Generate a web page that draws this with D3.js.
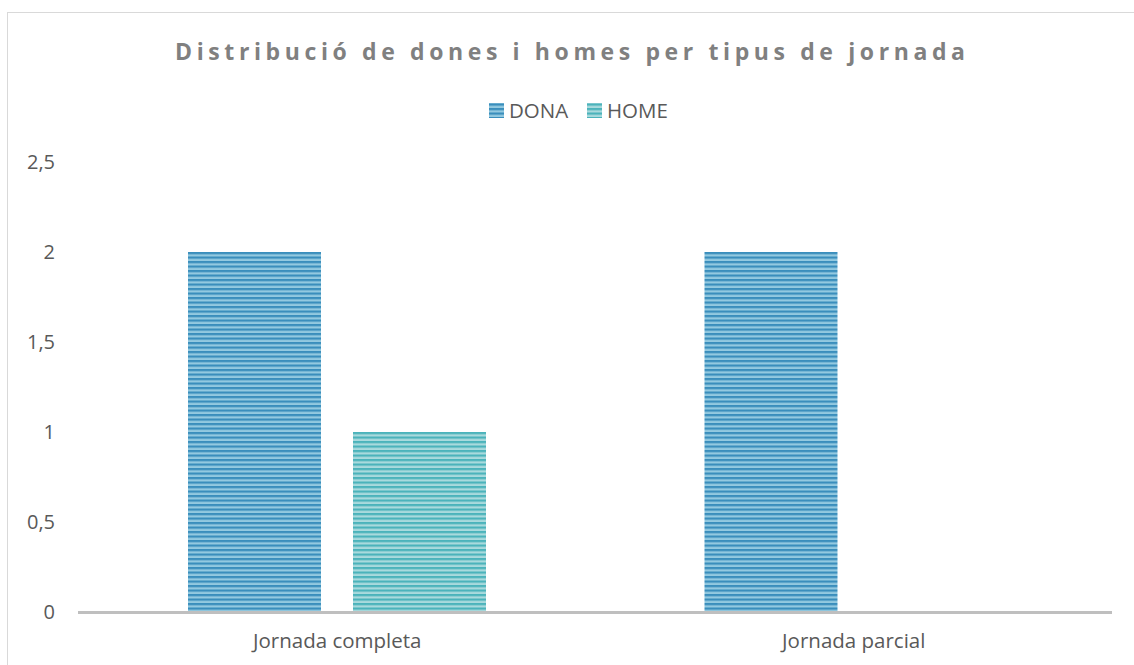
<!DOCTYPE html>
<html>
<head>
<meta charset="utf-8">
<script src="https://cdn.jsdelivr.net/npm/d3@7"></script>
<style>
  body { margin: 0; background: #fff; }
  text { font-family: "Open Sans", sans-serif; }
</style>
</head>
<body>
<div class="chart"></div>
<script>
const categories = ["Jornada completa", "Jornada parcial"];
const seriesNames = ["DONA", "HOME"];
const dona = [2, 2];
const home = [1, 0];
const yTicks = [0, 0.5, 1, 1.5, 2, 2.5];
const title = "Distribució de dones i homes per tipus de jornada";

const width = 1134, height = 665;
const marginLeft = 79, marginRight = 22, marginTop = 162, baseY = 612;

const svg = d3.select(".chart").append("svg")
  .attr("width", width)
  .attr("height", height);

// striped fills
const defs = svg.append("defs");
const fills = [
  {id: "pDona", dark: "#3a8ebc", light: "#93c9e0"},
  {id: "pHome", dark: "#4bb3bb", light: "#a9dadd"}
];
fills.forEach(f => {
  const p = defs.append("pattern")
    .attr("id", f.id)
    .attr("patternUnits", "userSpaceOnUse")
    .attr("width", 8).attr("height", 4.5);
  p.append("rect").attr("width", 8).attr("height", 4.5).attr("fill", f.light);
  p.append("rect").attr("y", 0).attr("width", 8).attr("height", 2.2).attr("fill", f.dark);
});

// outer border
svg.append("rect")
  .attr("x", 7.5).attr("y", 12.5)
  .attr("width", 1130).attr("height", 665)
  .attr("fill", "none")
  .attr("stroke", "#d9d9d9");

// title, spread to span roughly x 175..965
const titleText = svg.append("text")
  .attr("x", 175).attr("y", 60)
  .attr("fill", "#808080")
  .attr("font-size", 23)
  .attr("font-weight", "bold")
  .text(title);
const w = titleText.node().getComputedTextLength();
titleText.attr("letter-spacing", (790 - w) / (title.length - 1));

const x0 = d3.scaleBand().domain(categories).range([marginLeft, width - marginRight]);
const x1 = d3.scaleBand().domain(seriesNames).range([109, 407]).paddingInner(0.194);
const y = d3.scaleLinear().domain([0, 2.5]).range([baseY, marginTop]);

const rows = categories.map((c, i) => ({cat: c, vals: [
  {key: "DONA", value: dona[i]},
  {key: "HOME", value: home[i]}
]}));

const g = svg.append("g");
g.selectAll("g.grp").data(rows).join("g")
  .attr("class", "grp")
  .attr("transform", d => `translate(${x0(d.cat)},0)`)
  .selectAll("rect").data(d => d.vals.filter(v => v.value > 0)).join("rect")
  .attr("x", d => x1(d.key))
  .attr("width", x1.bandwidth())
  .attr("y", d => y(d.value))
  .attr("height", d => y(0) - y(d.value))
  .attr("fill", d => d.key === "DONA" ? "url(#pDona)" : "url(#pHome)");

// y tick labels
svg.append("g").selectAll("text").data(yTicks).join("text")
  .attr("x", 55)
  .attr("y", d => y(d))
  .attr("dy", "0.35em")
  .attr("text-anchor", "end")
  .attr("fill", "#595959")
  .attr("font-size", 20)
  .text(d => d3.format(".1~f")(d).replace(".", ","));

// baseline
svg.append("line")
  .attr("x1", marginLeft - 1).attr("x2", width - marginRight)
  .attr("y1", baseY + 0.5).attr("y2", baseY + 0.5)
  .attr("stroke", "#bfbfbf")
  .attr("stroke-width", 3);

// category labels
svg.append("g").selectAll("text").data(categories).join("text")
  .attr("x", d => x0(d) + x0.bandwidth() / 2)
  .attr("y", 648)
  .attr("text-anchor", "middle")
  .attr("fill", "#595959")
  .attr("font-size", 20.5)
  .text(d => d);

// legend
const legend = svg.append("g");
const legendX = [489, 587];
seriesNames.forEach((s, i) => {
  legend.append("rect")
    .attr("x", legendX[i]).attr("y", 103)
    .attr("width", 15).attr("height", 15)
    .attr("fill", i === 0 ? "url(#pDona)" : "url(#pHome)");
  legend.append("text")
    .attr("x", legendX[i] + 20).attr("y", 118)
    .attr("fill", "#595959")
    .attr("font-size", 20.5)
    .text(s);
});
</script>
</body>
</html>
